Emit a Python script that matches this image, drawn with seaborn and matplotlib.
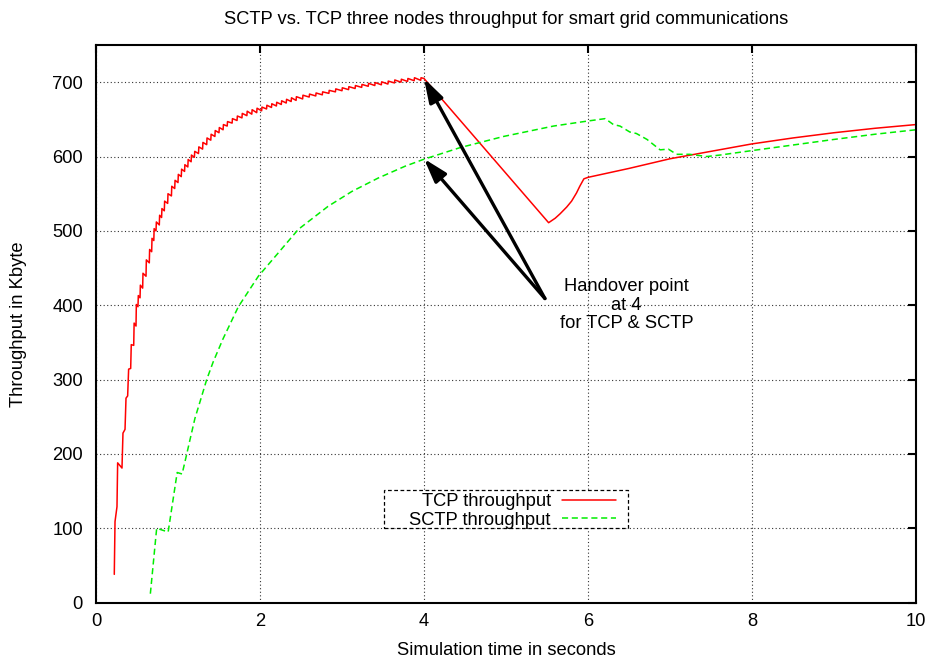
import matplotlib
matplotlib.use("Agg")
import matplotlib.pyplot as plt
from matplotlib.patches import Rectangle
import seaborn as sns
import pandas as pd

# TCP throughput samples (time in s, throughput in Kbyte)
tcp_time = [
    0.223, 0.232, 0.256, 0.264, 0.317, 0.329, 0.354, 0.366, 0.386, 0.398,
    0.423, 0.430, 0.460, 0.465, 0.488, 0.492, 0.512, 0.516, 0.537, 0.541,
    0.569, 0.573, 0.610, 0.614, 0.650, 0.654, 0.679, 0.683, 0.705, 0.709,
    0.732, 0.736, 0.772, 0.776, 0.800, 0.804, 0.833, 0.837, 0.874, 0.878,
    0.92, 0.924, 0.96, 0.964, 1.00, 1.004, 1.04, 1.044, 1.08, 1.084,
    1.12, 1.124, 1.16, 1.164, 1.20, 1.204, 1.25, 1.254, 1.30, 1.304,
    1.35, 1.354, 1.40, 1.404, 1.45, 1.454, 1.50, 1.504, 1.55, 1.554,
    1.60, 1.604, 1.66, 1.664, 1.72, 1.724, 1.78, 1.784, 1.84, 1.844,
    1.90, 1.904, 1.96, 1.964, 2.02, 2.024, 2.08, 2.084, 2.14, 2.144,
    2.20, 2.204, 2.26, 2.264, 2.32, 2.324, 2.38, 2.384, 2.44, 2.444,
    2.52, 2.524, 2.60, 2.604, 2.68, 2.684, 2.76, 2.764, 2.84, 2.844,
    2.92, 2.924, 3.00, 3.004, 3.08, 3.084, 3.16, 3.164, 3.24, 3.244,
    3.32, 3.324, 3.40, 3.404, 3.48, 3.484, 3.56, 3.564, 3.64, 3.644,
    3.72, 3.724, 3.80, 3.804, 3.88, 3.884, 3.96, 3.964, 4.00,
    5.52, 5.60, 5.66, 5.74, 5.80, 5.86, 5.90, 5.95, 6.00,
    6.50, 7.00, 7.50, 8.00, 8.50, 9.00, 9.50, 10.00,
]
tcp_kbyte = [
    38, 109, 129, 188, 181, 228, 233, 275, 278, 314,
    315, 347, 346, 376, 372, 401, 398, 413, 410, 427,
    423, 443, 439, 461, 457, 475, 472, 490, 487, 503,
    500, 512, 508, 521, 518, 530, 527, 540, 537, 550,
    547, 560, 557, 568, 565, 576, 573, 583, 580, 589,
    586, 596, 593, 602, 599, 607, 604, 613, 610, 619,
    616, 625, 622, 630, 627, 635, 632, 639, 636, 643,
    641, 647, 645, 651, 648.5, 654.5, 652, 658, 655, 661,
    657, 663, 659, 665, 661.5, 666.5, 664, 669, 666, 671,
    668, 673, 670, 675, 672, 677, 674, 679, 675.5, 680.5,
    677.5, 682.5, 680, 684, 681.5, 685.5, 683, 687, 685, 689,
    687, 691, 688.5, 692.5, 690, 694, 691.5, 695.5, 693, 697,
    694.5, 698.5, 695.5, 699.5, 696.5, 700.5, 697.5, 701.5, 699, 703,
    700, 704, 701, 705, 702, 706, 702.5, 706, 705,
    511, 517, 523, 532, 540, 551, 560, 570, 572,
    584, 597, 607, 617, 625, 632, 638, 643,
]

# SCTP throughput samples
sctp_time = [
    0.663, 0.74, 0.88, 0.99, 1.05, 1.105, 1.146, 1.207, 1.268, 1.35,
    1.43, 1.55, 1.736, 1.98, 2.22, 2.467, 2.83, 3.12, 3.44, 3.77,
    3.99, 4.44, 4.97, 5.58, 5.98, 6.21, 6.31, 6.39, 6.51, 6.59,
    6.72, 6.88, 6.98, 7.08, 7.24, 7.45, 7.61, 8.00, 8.50, 9.00,
    9.50, 10.00,
]
sctp_kbyte = [
    12, 100, 95, 175, 173, 199, 219, 248, 270, 300,
    324, 355, 398, 439, 470, 502, 533, 553, 571, 587,
    596, 612, 627, 641, 647.5, 651, 643, 641, 633, 631,
    623, 609, 610, 603, 603, 600, 602, 608, 615.5, 623,
    630, 636,
]

series_names = ["TCP throughput", "SCTP throughput"]
x_ticks = [0, 2, 4, 6, 8, 10]
y_ticks = [0, 100, 200, 300, 400, 500, 600, 700]

handover_time = 4.0
handover_tcp = 705
handover_sctp = 597
note_anchor = (5.475, 409)
note_text = "Handover point\nat 4\nfor TCP & SCTP"

tcp_df = pd.DataFrame({"time": tcp_time, "kbyte": tcp_kbyte})
sctp_df = pd.DataFrame({"time": sctp_time, "kbyte": sctp_kbyte})

FS = 13.2

sns.set_style("white")
plt.rcParams["font.family"] = ["Liberation Sans", "DejaVu Sans"]
plt.rcParams["font.size"] = FS
plt.rcParams["text.color"] = "black"
plt.rcParams["axes.labelcolor"] = "black"

fig = plt.figure(figsize=(9.32, 6.62), dpi=100)
ax = fig.add_axes([0.1030, 0.0897, 0.8798, 0.8423])

sns.lineplot(data=tcp_df, x="time", y="kbyte", ax=ax, estimator=None, sort=False,
             color="#ff0000", linewidth=1.1, label=series_names[0])
sns.lineplot(data=sctp_df, x="time", y="kbyte", ax=ax, estimator=None, sort=False,
             color="#00ee00", linewidth=1.1, linestyle=(0, (4.0, 2.4)),
             label=series_names[1])

ax.set_xlim(0, 10)
ax.set_ylim(0, 750)
ax.set_xticks(x_ticks)
ax.set_yticks(y_ticks)
ax.set_xticklabels([str(v) for v in x_ticks])
ax.set_yticklabels([str(v) for v in y_ticks])

ax.grid(True, linestyle=(0, (1, 2.2)), color="#333333", linewidth=0.8)
for side in ["left", "right", "top", "bottom"]:
    ax.spines[side].set_visible(True)
    ax.spines[side].set_color("black")
    ax.spines[side].set_linewidth(1.5)
ax.tick_params(direction="in", top=True, right=True, length=6, width=1.5,
               labelsize=FS, colors="black")
ax.tick_params(axis="x", pad=7.5)
ax.tick_params(axis="y", pad=9.5)

ax.set_xlabel("Simulation time in seconds", fontsize=FS)
ax.set_ylabel("Throughput in Kbyte", fontsize=FS)
ax.xaxis.set_label_coords(0.5, -0.071)
ax.yaxis.set_label_coords(-0.084, 0.5)
ax.text(0.5, 1.046, "SCTP vs. TCP three nodes throughput for smart grid communications",
        transform=ax.transAxes, ha="center", va="center", fontsize=FS)

# handover arrows
for target in (handover_tcp, handover_sctp):
    ax.annotate("", xy=(handover_time, target), xytext=note_anchor,
                arrowprops=dict(arrowstyle="-|>,head_length=0.8,head_width=0.25",
                                color="black", lw=2.4, mutation_scale=18,
                                shrinkA=0, shrinkB=0))
ax.text(6.47, 400, note_text, ha="center", va="center", fontsize=FS,
        multialignment="center", linespacing=1.1)

# key: entries without their own frame, boxed by a dashed rectangle
leg = ax.legend(loc="center", bbox_to_anchor=(0.508, 0.164), markerfirst=False,
                frameon=False, fontsize=FS, handlelength=2.95,
                handletextpad=0.6, borderpad=0.2, labelspacing=0.08,
                borderaxespad=0)
ax.add_patch(Rectangle((0.3512, 0.1338), 0.2976, 0.0681, transform=ax.transAxes,
                       fill=True, facecolor="white", edgecolor="black",
                       linewidth=0.9, linestyle=(0, (3, 2)), zorder=4.5))

fig.savefig("out.png", dpi=100)
